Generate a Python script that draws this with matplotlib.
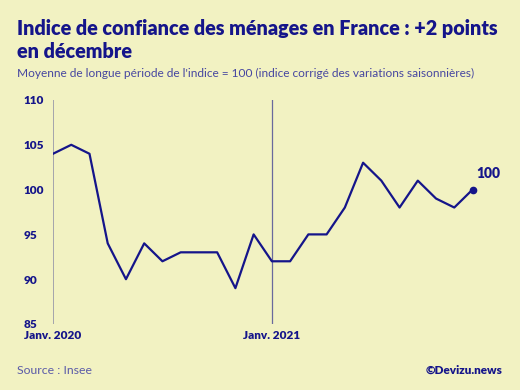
import matplotlib.pyplot as plt

navy = '#15158a'
bg = '#f2f2c2'

mois = list(range(24))
indice = [104, 105, 104, 94, 90, 94, 92, 93, 93, 93, 89, 95,
          92, 92, 95, 95, 98, 103, 101, 98, 101, 99, 98, 100]
y_ticks = [85, 90, 95, 100, 105, 110]
x_ticks = [0, 12]
x_labels = ['Janv. 2020', 'Janv. 2021']

plt.rcParams['font.family'] = ['Lato', 'DejaVu Sans']

fig = plt.figure(figsize=(5.2, 3.9), dpi=100, facecolor=bg)
ax = fig.add_axes([53/520, 66/390, 456/520, 224/390], facecolor=bg)

ax.axvline(0, color='#a4a4ac', lw=1.4, zorder=1)
ax.axvline(12, color='#6a6a9c', lw=0.9, zorder=1)
ax.plot(mois, indice, color=navy, lw=1.6, zorder=3)
ax.plot(mois[-1], indice[-1], 'o', color=navy, ms=4.5, zorder=4)
ax.annotate(str(indice[-1]), (mois[-1], indice[-1]), xytext=(3, 7),
            textcoords='offset points', color=navy, fontsize=10,
            fontweight='heavy', ha='left', va='bottom')

ax.set_xlim(0, 25)
ax.set_ylim(85, 110)
ax.set_yticks(y_ticks)
ax.set_yticklabels([str(v) for v in y_ticks], color=navy, fontsize=8.5,
                   fontweight='heavy', ha='left')
ax.tick_params(axis='y', length=0, pad=21)
ax.set_xticks(x_ticks)
ax.set_xticklabels(x_labels, color=navy, fontsize=8.5, fontweight='heavy')
ax.tick_params(axis='x', length=0, pad=4)
for s in ax.spines.values():
    s.set_visible(False)

fig.text(17/520, 1 - 28/390, 'Indice de confiance des ménages en France : +2 points',
         color=navy, fontsize=14.2, fontweight='heavy', va='center')
fig.text(17/520, 1 - 52/390, 'en décembre',
         color=navy, fontsize=14.2, fontweight='heavy', va='center')
fig.text(17/520, 1 - 73/390,
         "Moyenne de longue période de l'indice = 100 (indice corrigé des variations saisonnières)",
         color='#4646a0', fontsize=8.6, va='center')
fig.text(17/520, 1 - 370/390, 'Source : Insee', color='#5a5aa8',
         fontsize=8.8, va='center')
fig.text(503/520, 1 - 370/390, '©Devizu.news', color=navy,
         fontsize=8.5, fontweight='heavy', va='center', ha='right')

fig.savefig('out.png', dpi=100, facecolor=bg)
